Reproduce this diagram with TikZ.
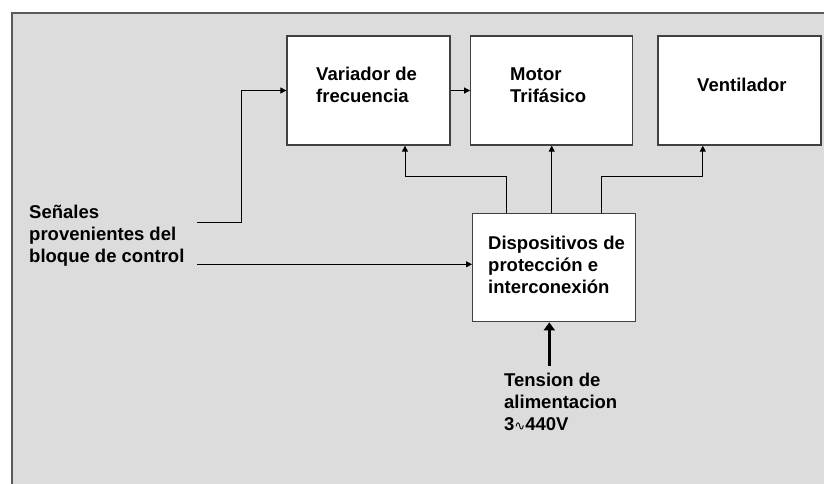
\documentclass[tikz,border=0pt]{standalone}
\usepackage{fontspec}
\setmainfont{Liberation Sans}
\newfontfamily\wavefont{DejaVu Sans}
\usetikzlibrary{arrows.meta}
\definecolor{panelgray}{HTML}{DCDCDC}
\definecolor{panelline}{HTML}{5A5A5A}
\definecolor{boxline}{HTML}{404040}
\tikzset{
  block/.style={draw=boxline, line width=1.3pt, fill=white, minimum width=163pt, minimum height=109pt, inner sep=0pt},
  txt/.style={anchor=north west, inner sep=0pt, align=left, font=\fontsize{18.5}{22}\selectfont\bfseries},
  arr/.style={-{Triangle[length=6pt,width=6pt]}, line width=1pt},
  bigarr/.style={-{Triangle[length=8pt,width=11pt]}, line width=3.5pt}
}
\begin{document}
\begin{tikzpicture}[x=1pt, y=-1pt]
\useasboundingbox (0,0) rectangle (824,484);
\draw[panelline, fill=panelgray, line width=2pt] (12,13) rectangle (840,500);

\node[block] (var) at (368.5,90.5){};
\node[block, minimum width=162pt] (mot) at (551.7,90.5){};
\node[block] (ven) at (739.6,90.5){};
\node[block, minimum height=108.5pt] (dis) at (554.2,267.5){};

\node[txt] (vartxt) at (316,66.7){Variador de\\frecuencia};
\node[txt] (mottxt) at (510,67.3){Motor\\Trifásico};
\node[txt] (ventxt) at (697,78){Ventilador};
\node[txt] (distxt) at (488,236){Dispositivos de\\protección e\\interconexión};
\node[txt] (sentxt) at (29,205){Señales\\provenientes del\\bloque de control};
\node[txt] (tentxt) at (504,372.7){Tension de\\alimentacion\\3{\wavefont\fontseries{m}\selectfont\fontsize{13}{13}\selectfont\char"223F}440V};

\coordinate (s1) at (197,222.3);
\coordinate (s2) at (197,264.3);
\coordinate (tin) at (549.3,366);

% signals from the control block
\draw[arr] (s1) -- (241.3,222.3) |- (var);
\draw[arr] (s2) -- (s2 -| dis.west);
\draw[arr] (var) -- (mot);

% outputs of the protection block
\draw[arr] ([xshift=-47.5pt]dis.north) -- ++(0,-36) -| ([xshift=36.5pt]var.south);
\draw[arr] (dis.north -| mot.south) -- (mot.south);
\draw[arr] ([xshift=47.5pt]dis.north) -- ++(0,-36.5) -| ([xshift=-36.8pt]ven.south);

% supply
\draw[bigarr] (tin) -- (tin |- dis.south);
\end{tikzpicture}
\end{document}
